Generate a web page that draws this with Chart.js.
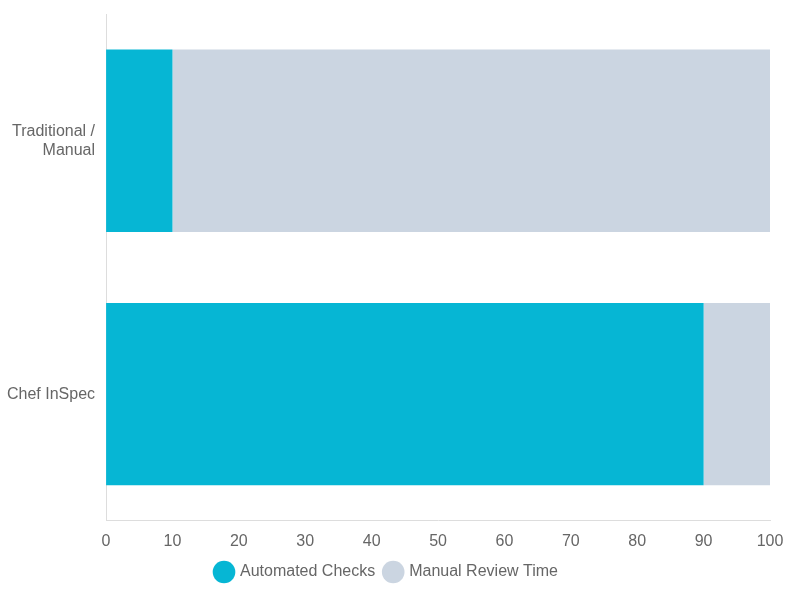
<!DOCTYPE html>
<html><head><meta charset="utf-8">
<script src="https://cdn.jsdelivr.net/npm/chart.js@4"></script>
<style>body{margin:0;background:#fff}#w{width:790px;height:600px}</style>
</head><body><div id="w"><canvas id="c"></canvas></div>
<script>
const categories = [["Traditional /","Manual"], "Chef InSpec"];
const automated = [10, 90];
const manual = [90, 10];
const xTicks = [0,10,20,30,40,50,60,70,80,90,100];
Chart.defaults.font.family = "'Liberation Sans', Arial, sans-serif";
Chart.defaults.font.size = 16;
Chart.defaults.color = "#666";
new Chart(document.getElementById('c'), {
  type: 'bar',
  data: { labels: categories, datasets: [
    { label: 'Automated Checks', data: automated, backgroundColor: '#06b6d4' },
    { label: 'Manual Review Time', data: manual, backgroundColor: '#cbd5e1' }
  ]},
  options: {
    indexAxis: 'y', responsive: true, maintainAspectRatio: false, animation: false,
    layout: { padding: { top: 14, right: 20, left: 4, bottom: 10 } },
    scales: {
      x: { stacked: true, min: 0, max: 100, grid: { display: false, drawTicks: true },
           border: { display: true, color: '#ddd' },
           ticks: { stepSize: 10, callback: (v) => xTicks.includes(v) ? v : '' } },
      y: { stacked: true, grid: { display: false }, border: { display: true, color: '#ddd' } }
    },
    plugins: {
      legend: { position: 'bottom', labels: { usePointStyle: true, pointStyle: 'circle', boxWidth: 26, boxHeight: 26, padding: 10 } },
      tooltip: { enabled: false }
    }
  }
});
</script></body></html>
